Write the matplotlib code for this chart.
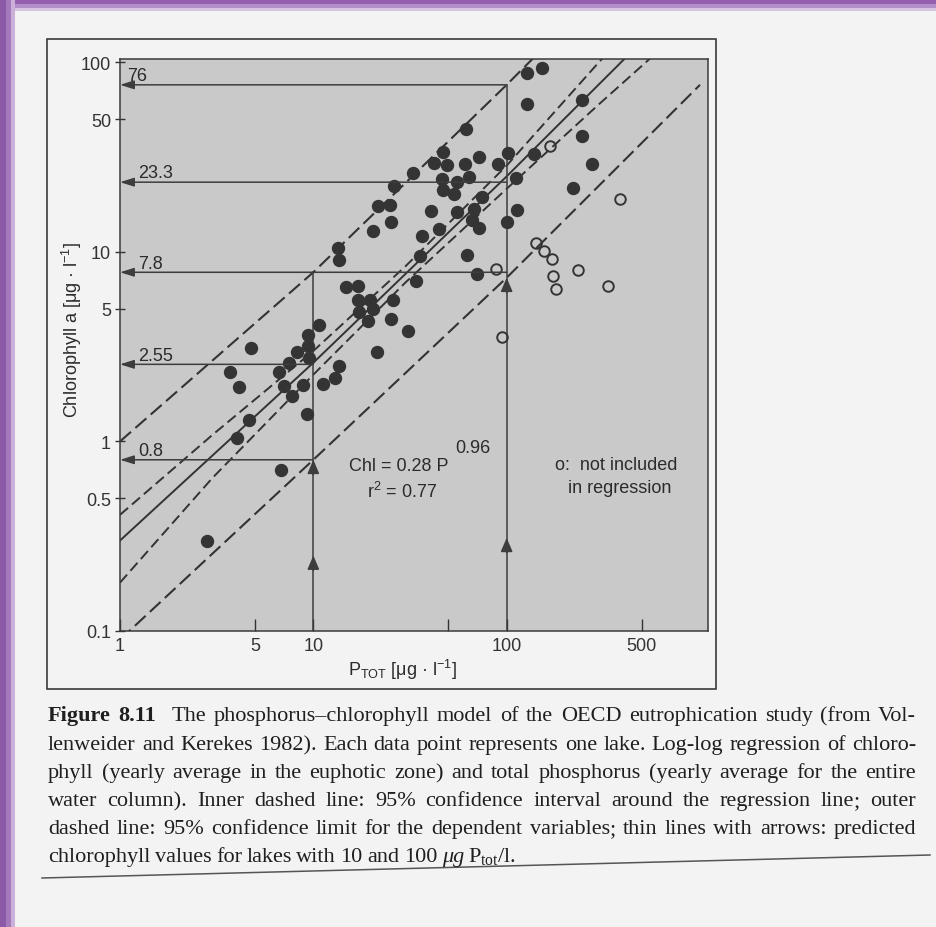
import numpy as np
import matplotlib
matplotlib.use("Agg")
import matplotlib.pyplot as plt
from matplotlib.patches import Rectangle
from matplotlib.lines import Line2D

plt.rcParams['font.family'] = 'Liberation Sans'

# lakes included in the regression: total P and chlorophyll a (ug/l)
p_fit = [127.5, 152, 127.5, 245, 61.7, 245, 46.9, 42.1, 49.2, 60.9,
         72, 90.3, 101.7, 138.6, 276.6, 32.8, 46.3, 55.4, 63.9, 111.9,
         26.2, 46.9, 53.4, 74.6, 220.6, 21.6, 24.9, 40.6, 55.4, 67.8,
         113.2, 66.2, 100.5, 25.2, 72, 44.7, 20.4, 36.5, 13.4, 13.6,
         35.6, 62.4, 70.3, 34, 14.8, 17.0, 17.0, 19.7, 25.9, 17.2,
         20.4, 19.2, 25.2, 30.9, 10.7, 9.4, 9.4, 4.76, 8.2, 21.4,
         9.5, 7.5, 13.6, 6.65, 3.71, 12.9, 4.13, 7.05, 8.85, 11.2,
         7.76, 9.28, 4.65, 4.03, 6.8, 2.82]
chl_fit = [88, 93.5, 60, 63, 44.6, 40.9, 33.7, 29.5, 28.8, 29.1,
           31.7, 29.1, 33.3, 32.9, 29.1, 26.1, 24.3, 23.4, 24.9, 24.5,
           22.3, 21.2, 20.2, 19.5, 21.8, 17.5, 17.7, 16.5, 16.3, 16.9,
           16.7, 14.8, 14.4, 14.4, 13.4, 13.2, 12.9, 12.1, 10.5, 9.1,
           9.5, 9.6, 7.6, 7.0, 6.5, 6.6, 5.6, 5.6, 5.6, 4.8,
           5.0, 4.3, 4.4, 3.8, 4.1, 3.65, 3.2, 3.1, 2.96, 2.96,
           2.76, 2.6, 2.5, 2.33, 2.33, 2.16, 1.94, 1.96, 1.99, 2.01,
           1.74, 1.40, 1.30, 1.04, 0.71, 0.30]

# lakes not included in the regression (open circles)
p_out = [167.6, 386, 142, 156, 172, 234, 174, 180, 335, 88, 94.7]
chl_out = [36.2, 19.1, 11.1, 10.1, 9.2, 8.0, 7.5, 6.4, 6.6, 8.1, 3.56]

# regression line and outer (prediction) limits
band_p = [1, 10, 100, 1000]
reg_chl = [0.30, 2.6, 25, 260]
pred_hi = [1.0, 7.8, 76, 800]
pred_lo = [0.09, 0.8, 7.3, 76]

# inner dashed lines: confidence interval around the regression
ci_p = [1, 3, 10, 30, 100, 300, 1000]
ci_hi = [0.41, 1.08, 3.0, 8.4, 28.5, 100, 370]
ci_lo = [0.18, 0.64, 2.25, 6.9, 21.5, 60, 180]

# predicted values for 10 and 100 ug P/l (thin lines with arrows)
arrow_vals = [76, 23.3, 7.8, 2.55, 0.8]
arrow_from = [100, 100, 100, 10, 10]
arrow_labels = ['76', '23.3', '7.8', '2.55', '0.8']
vert_x = [10, 100]
vert_top = [7.8, 76]
tip_x = [10, 10, 100, 100]
tip_y = [0.25, 0.8, 0.31, 7.3]

x_ticks = [1, 5, 10, 50, 100, 500]
x_ticklabels = ['1', '5', '10', '', '100', '500']
y_ticks = [0.1, 0.5, 1, 5, 10, 50, 100]
y_ticklabels = ['0.1', '0.5', '1', '5', '10', '50', '100']

caption = [
    "Figure 8.11 The phosphorus\u2013chlorophyll model of the OECD eutrophication study (from Vol-",
    "lenweider and Kerekes 1982). Each data point represents one lake. Log-log regression of chloro-",
    "phyll (yearly average in the euphotic zone) and total phosphorus (yearly average for the entire",
    "water column). Inner dashed line: 95% confidence interval around the regression line; outer",
    "dashed line: 95% confidence limit for the dependent variables; thin lines with arrows: predicted",
    "chlorophyll values for lakes with 10 and 100 \u03bcg $\\mathregular{P_{tot}/l.}$",
]

W, H = 936, 928
def fx(x):
    return x / W
def fy(y):
    return 1 - y / H

ink = '#333333'
fig = plt.figure(figsize=(W / 100, H / 100), dpi=100, facecolor='#f3f3f3')

# purple frame of the screenshot
for x0, x1, c in [(0, 6, '#8b5aa6'), (6, 11, '#a47abd'), (11, 15, '#cbb1d9')]:
    fig.add_artist(Rectangle((fx(x0), 0), (x1 - x0) / W, 1, transform=fig.transFigure, color=c, lw=0))
for y0, y1, c in [(0, 5, '#955fb0'), (5, 9, '#b28ec8'), (9, 12, '#d7c4e1')]:
    fig.add_artist(Rectangle((fx(15), fy(y1)), 1, (y1 - y0) / H, transform=fig.transFigure, color=c, lw=0))

# box around the figure on the page
fig.add_artist(Rectangle((fx(47), fy(690)), 669 / W, 650 / H, transform=fig.transFigure,
                         fill=False, ec='#3a3a3a', lw=1.2))

ax = fig.add_axes([fx(120), fy(632), 588 / W, 572 / H])
ax.set_facecolor('#c9c9c9')
ax.set_xscale('log')
ax.set_yscale('log')
ax.set_xlim(1, 1100)
ax.set_ylim(0.1, 104)

# bands
ax.plot(band_p, pred_hi, color=ink, lw=1.5, dashes=(7, 2.8))
ax.plot(band_p, pred_lo, color=ink, lw=1.5, dashes=(7, 2.8))
ax.plot(ci_p, ci_hi, color=ink, lw=1.4, dashes=(5.5, 2.6))
ax.plot(ci_p, ci_lo, color=ink, lw=1.4, dashes=(5.5, 2.6))
ax.plot(band_p, reg_chl, color=ink, lw=1.4)

# prediction lines
thin = '#3d3d3d'
for xv, top in zip(vert_x, vert_top):
    ax.plot([xv, xv], [0.1, top], color=thin, lw=1.1)
for v, xe, lab in zip(arrow_vals, arrow_from, arrow_labels):
    ax.annotate('', xy=(1, v), xytext=(xe, v),
                arrowprops=dict(arrowstyle='-|>,head_length=0.7,head_width=0.22',
                                color=thin, lw=1.1, mutation_scale=12, shrinkA=0, shrinkB=0))
    off = 5 if lab == '76' else 13
    ax.annotate(lab, xy=(1, v), xytext=(off, 0.5), textcoords='offset points',
                fontsize=13, color='#2b2b2b', va='bottom', ha='left')
for xv, yv in zip(tip_x, tip_y):
    ax.annotate('', xy=(xv, yv), xytext=(xv, yv / 1.2),
                arrowprops=dict(arrowstyle='-|>,head_length=0.7,head_width=0.3',
                                color=thin, lw=1.1, mutation_scale=12, shrinkA=0, shrinkB=0))

# lakes
ax.plot(p_fit, chl_fit, 'o', ms=8.6, color='#343434', mec='#343434', ls='none')
ax.plot(p_out, chl_out, 'o', ms=7.6, mfc='none', mec='#343434', mew=1.4, ls='none')

ax.set_xticks(x_ticks)
ax.set_xticklabels(x_ticklabels)
ax.set_yticks(y_ticks)
ax.set_yticklabels(y_ticklabels)
ax.minorticks_off()
ax.tick_params(axis='x', direction='in', length=9, width=1, colors='#333333', labelsize=13, pad=4)
ax.tick_params(axis='y', direction='inout', length=7, width=1, colors='#333333', labelsize=13, pad=3)
for s in ax.spines.values():
    s.set_color('#3a3a3a')
    s.set_linewidth(1.1)

txt = '#2b2b2b'
fig.text(fx(72), fy(330), 'Chlorophyll a [\u03bcg \u00b7 l$^{\\mathregular{\u22121}}$]',
         rotation=90, ha='center', va='center', fontsize=13, color=txt)
fig.text(fx(403), fy(670), 'P$_{\\mathregular{TOT}}$ [\u03bcg \u00b7 l$^{\\mathregular{\u22121}}$]',
         ha='center', va='center', fontsize=13, color=txt)
fig.text(fx(349), fy(467), 'Chl = 0.28 P', ha='left', va='center', fontsize=13, color=txt)
fig.text(fx(455), fy(449), '0.96', ha='left', va='center', fontsize=13, color=txt)
fig.text(fx(367), fy(492), 'r$^{\\mathregular{2}}$ = 0.77', ha='left', va='center', fontsize=13, color=txt)
fig.text(fx(555), fy(466), 'o:  not included', ha='left', va='center', fontsize=13, color=txt)
fig.text(fx(568), fy(489), 'in regression', ha='left', va='center', fontsize=13, color=txt)

# caption, justified between the page margins
renderer = fig.canvas.get_renderer()
base = [721, 750, 778, 806, 834, 862]
left, right = 48, 916


def cap_text(s, y, bold=False, ital=False):
    return fig.text(0, fy(y), s, fontsize=16, family='Liberation Serif',
                    fontweight='bold' if bold else 'normal',
                    style='italic' if ital else 'normal',
                    va='baseline', ha='left', color='#1f1f1f')


for i, line in enumerate(caption):
    words = line.split(' ')
    arts, tails = [], []
    for j, w in enumerate(words):
        # a trailing semicolon is drawn on its own so the word keeps its baseline
        tail = None
        if w.endswith(';'):
            w = w[:-1]
            tail = cap_text(';', base[i])
        arts.append(cap_text(w, base[i], bold=(i == 0 and j < 2), ital=(w == '\u03bcg')))
        tails.append(tail)
    widths = []
    for a, t in zip(arts, tails):
        wa = a.get_window_extent(renderer).width
        wt = t.get_window_extent(renderer).width if t is not None else 0
        widths.append((wa, wt))
    extra = 8 if i == 0 else 0
    total = sum(wa + wt for wa, wt in widths)
    if i < len(caption) - 1:
        gap = (right - left - total - extra) / (len(words) - 1)
    else:
        gap = 4.5
    x = left
    for j, (a, t, (wa, wt)) in enumerate(zip(arts, tails, widths)):
        a.set_x(fx(x))
        if t is not None:
            t.set_x(fx(x + wa))
        x += wa + wt + gap + (extra if j == 1 else 0)

fig.add_artist(Line2D([fx(42), fx(930)], [fy(879), fy(856)], transform=fig.transFigure,
                      color='#555555', lw=1.1))

fig.savefig('out.png', dpi=100, facecolor=fig.get_facecolor())
